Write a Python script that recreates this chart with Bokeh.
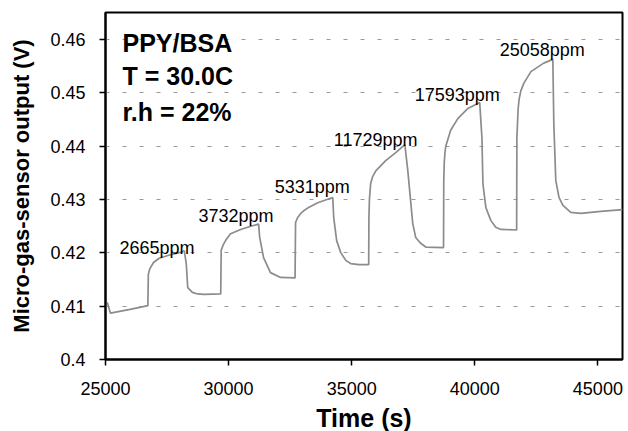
from bokeh.plotting import figure
from bokeh.models import Label, FixedTicker, Range1d
from bokeh.embed import file_html
from bokeh.resources import INLINE

# ---- data ----
time_s = [25000, 25080, 25200, 26000, 26720,
          26740, 26800, 26950, 27180, 27600, 28050, 28200,
          28280, 28340, 28530, 28740, 29000, 29680,
          29700, 29780, 29900, 30080, 30490, 30900, 31220,
          31260, 31420, 31700, 32110, 32700,
          32720, 32800, 32930, 33050, 33210, 33620, 34230,
          34270, 34390, 34550, 34760, 34960, 35300, 35690,
          35700, 35720, 35770, 35850, 35980, 36380, 36790, 37160,
          37280, 37480, 37600, 37800, 38010, 38730,
          38740, 38760, 38790, 38820, 39020, 39310, 39720, 40200,
          40290, 40330, 40450, 40650, 40850, 41060, 41700,
          41710, 41760, 41800, 41870, 41990, 42280, 42800, 43170,
          43210, 43290, 43420, 43580, 43900, 44310, 45120, 46000]
output_v = [0.4107, 0.4106, 0.4087, 0.4094, 0.4101,
            0.4160, 0.4170, 0.4182, 0.4190, 0.4196, 0.4201, 0.4204,
            0.4180, 0.4135, 0.4126, 0.4123, 0.4122, 0.4123,
            0.4205, 0.4215, 0.4225, 0.4236, 0.4244, 0.4250, 0.4254,
            0.4230, 0.4191, 0.4163, 0.4154, 0.4153,
            0.4257, 0.4266, 0.4274, 0.4279, 0.4284, 0.4294, 0.4304,
            0.4266, 0.4223, 0.4201, 0.4186, 0.4180, 0.4178, 0.4178,
            0.4266, 0.4300, 0.4330, 0.4343, 0.4354, 0.4373, 0.4388, 0.4403,
            0.4354, 0.4255, 0.4229, 0.4218, 0.4211, 0.4210,
            0.4336, 0.4370, 0.4388, 0.4400, 0.4430, 0.4452, 0.4471, 0.4482,
            0.4416, 0.4330, 0.4285, 0.4261, 0.4248, 0.4244, 0.4243,
            0.4416, 0.4470, 0.4488, 0.4504, 0.4518, 0.4540, 0.4556, 0.4563,
            0.4443, 0.4336, 0.4304, 0.4289, 0.4276, 0.4274, 0.4278, 0.4281]

conc_labels = ["2665ppm", "3732ppm", "5331ppm", "11729ppm", "17593ppm", "25058ppm"]
conc_x = [25570, 28780, 31870, 34270, 37560, 41010]
conc_y = [0.4210, 0.4270, 0.4323, 0.4411, 0.4497, 0.4580]

info_lines = ["PPY/BSA", "T = 30.0C", "r.h = 22%"]
info_y = [0.4594, 0.4531, 0.4465]
info_x = 25690

x_ticks = [25000, 30000, 35000, 40000, 45000]
x_tick_labels = ["25000", "30000", "35000", "40000", "45000"]
y_ticks = [0.40, 0.41, 0.42, 0.43, 0.44, 0.45, 0.46]
y_tick_labels = ["0.4", "0.41", "0.42", "0.43", "0.44", "0.45", "0.46"]

FONT = "Liberation Sans"

p = figure(frame_width=517, frame_height=347,
           min_border_left=105, min_border_right=6, min_border_top=12, min_border_bottom=72,
           x_range=Range1d(25000, 46000), y_range=Range1d(0.40, 0.4651),
           output_backend="svg", toolbar_location=None,
           x_axis_label="Time (s)", y_axis_label="Micro-gas-sensor output (V)")

p.background_fill_color = "white"
p.border_fill_color = "white"
p.outline_line_color = "black"
p.outline_line_width = 2

p.line(time_s, output_v, line_color="#8c8c8c", line_width=1.7)

for txt, xx, yy in zip(conc_labels, conc_x, conc_y):
    p.add_layout(Label(x=xx, y=yy, text=txt, text_font=FONT, text_font_size="18px",
                       text_color="black", text_align="left", text_baseline="alphabetic"))

for txt, yy in zip(info_lines, info_y):
    p.add_layout(Label(x=info_x, y=yy, text=txt, text_font=FONT, text_font_size="25px",
                       text_font_style="bold", text_color="black",
                       text_align="left", text_baseline="alphabetic"))

p.xgrid.visible = False
p.ygrid.grid_line_color = "#9a9a9a"
p.ygrid.grid_line_dash = "4 13"
p.ygrid.grid_line_width = 1
p.ygrid.ticker = FixedTicker(ticks=y_ticks)

p.xaxis.ticker = FixedTicker(ticks=x_ticks)
p.yaxis.ticker = FixedTicker(ticks=y_ticks)
p.xaxis.major_label_overrides = dict(zip(x_ticks, x_tick_labels))
p.yaxis.major_label_overrides = dict(zip(y_ticks, y_tick_labels))

for ax in (p.xaxis, p.yaxis):
    ax.axis_line_color = "black"
    ax.axis_line_width = 2
    ax.major_tick_line_color = "black"
    ax.major_tick_line_width = 1.5
    ax.major_tick_out = 6
    ax.major_tick_in = 0
    ax.minor_tick_line_color = None
    ax.major_label_text_font = FONT
    ax.major_label_text_font_size = "18px"
    ax.major_label_text_color = "black"
    ax.axis_label_text_font = FONT
    ax.axis_label_text_font_style = "bold"
    ax.axis_label_text_color = "black"

p.xaxis.major_label_standoff = 16
p.yaxis.major_label_standoff = 14
p.xaxis.axis_label_standoff = 6
p.xaxis.axis_label_text_font_size = "25px"
p.yaxis.axis_label_text_font_size = "22px"
p.yaxis.axis_label_standoff = 13

open("out.html", "w").write(file_html(p, INLINE))
